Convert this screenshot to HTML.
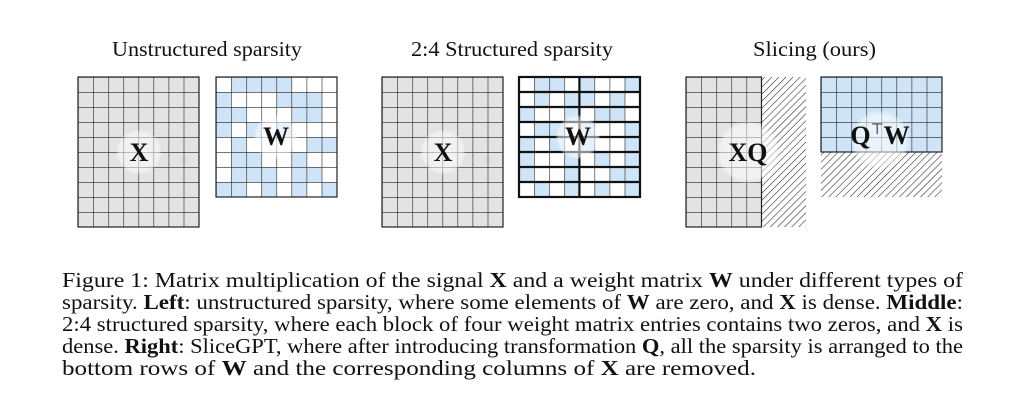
<!DOCTYPE html>
<html><head><meta charset="utf-8"><style>
body{margin:0;background:#fff;width:1024px;height:412px;overflow:hidden}
svg{display:block}
.t{font-family:"Liberation Serif",serif;font-size:21px;fill:#111}
.b{font-weight:bold}
.lab{font-family:"Liberation Serif",serif;font-weight:bold;font-size:26px;fill:#111;text-anchor:middle}
</style></head><body>
<svg width="1024" height="412" viewBox="0 0 1024 412" xmlns="http://www.w3.org/2000/svg">
<defs>
<pattern id="g" width="15.1" height="15" patternUnits="userSpaceOnUse"><path d="M0 0H15.1M0 0V15" stroke="#222" stroke-width="1.2" fill="none"/></pattern>
<pattern id="h" width="5" height="5" patternUnits="userSpaceOnUse" patternTransform="rotate(45)"><line x1="0" y1="0" x2="0" y2="5" stroke="#222" stroke-width="1.1"/></pattern>
<radialGradient id="c"><stop offset="0" stop-color="#fff" stop-opacity="0.6"/><stop offset="0.85" stop-color="#fff" stop-opacity="0.5"/><stop offset="1" stop-color="#fff" stop-opacity="0"/></radialGradient>
</defs>
<text class="t" x="112" y="56" textLength="190" lengthAdjust="spacingAndGlyphs">Unstructured sparsity</text>
<text class="t" x="411" y="56" textLength="202" lengthAdjust="spacingAndGlyphs">2:4 Structured sparsity</text>
<text class="t" x="753" y="56" textLength="123" lengthAdjust="spacingAndGlyphs">Slicing (ours)</text>

<!-- Left X -->
<g transform="translate(78,77)"><rect width="121" height="150" fill="#e3e3e3"/><rect width="121" height="150" fill="url(#g)"/><rect width="121" height="150" fill="none" stroke="#222" stroke-width="1.2"/></g>
<circle cx="139" cy="152" r="23" fill="url(#c)"/><text class="lab" x="139" y="161">X</text>

<!-- Left W -->
<g transform="translate(216,77)" fill="#cfe4f7">
<rect x="15.1" y="0" width="60.4" height="15"/>
<rect x="0" y="15" width="15.1" height="15"/><rect x="60.4" y="15" width="45.3" height="15"/>
<rect x="0" y="30" width="30.2" height="15"/><rect x="75.5" y="30" width="30.2" height="15"/>
<rect x="0" y="45" width="15.1" height="15"/><rect x="30.2" y="45" width="15.1" height="15"/><rect x="60.4" y="45" width="15.1" height="15"/>
<rect x="15.1" y="60" width="15.1" height="15"/><rect x="90.6" y="60" width="30.2" height="15"/>
<rect x="15.1" y="75" width="30.2" height="15"/><rect x="75.5" y="75" width="15.1" height="15"/>
<rect x="15.1" y="90" width="45.3" height="15"/><rect x="75.5" y="90" width="30.2" height="15"/>
<rect x="0" y="105" width="30.2" height="15"/><rect x="45.3" y="105" width="15.1" height="15"/><rect x="75.5" y="105" width="15.1" height="15"/><rect x="105.7" y="105" width="15.1" height="15"/>
<rect width="121" height="120" fill="url(#g)"/><rect width="121" height="120" fill="none" stroke="#222" stroke-width="1.2"/>
</g>
<circle cx="276" cy="137" r="23" fill="url(#c)"/><text class="lab" x="276" y="145">W</text>

<!-- Middle X -->
<g transform="translate(382,77)"><rect width="121" height="150" fill="#e3e3e3"/><rect width="121" height="150" fill="url(#g)"/><rect width="121" height="150" fill="none" stroke="#222" stroke-width="1.2"/></g>
<circle cx="443" cy="152" r="23" fill="url(#c)"/><text class="lab" x="443" y="161">X</text>

<!-- Middle W -->
<g transform="translate(519,77)" fill="#cfe4f7">
<rect x="15.1" y="0" width="30.2" height="15"/><rect x="60.4" y="0" width="15.1" height="15"/><rect x="105.7" y="0" width="15.1" height="15"/>
<rect x="15.1" y="15" width="15.1" height="15"/><rect x="45.3" y="15" width="30.2" height="15"/><rect x="90.6" y="15" width="15.1" height="15"/>
<rect x="0" y="30" width="15.1" height="15"/><rect x="45.3" y="30" width="15.1" height="15"/><rect x="75.5" y="30" width="30.2" height="15"/>
<rect x="15.1" y="45" width="30.2" height="15"/><rect x="60.4" y="45" width="15.1" height="15"/><rect x="105.7" y="45" width="15.1" height="15"/>
<rect x="0" y="60" width="15.1" height="15"/><rect x="30.2" y="60" width="15.1" height="15"/><rect x="60.4" y="60" width="15.1" height="15"/><rect x="105.7" y="60" width="15.1" height="15"/>
<rect x="0" y="75" width="15.1" height="15"/><rect x="45.3" y="75" width="15.1" height="15"/><rect x="75.5" y="75" width="15.1" height="15"/><rect x="105.7" y="75" width="15.1" height="15"/>
<rect x="0" y="90" width="15.1" height="15"/><rect x="45.3" y="90" width="15.1" height="15"/><rect x="90.6" y="90" width="30.2" height="15"/>
<rect x="15.1" y="105" width="15.1" height="15"/><rect x="45.3" y="105" width="15.1" height="15"/><rect x="75.5" y="105" width="15.1" height="15"/><rect x="105.7" y="105" width="15.1" height="15"/>
<rect width="121" height="120" fill="url(#g)"/>
<g stroke="#111" stroke-width="2.2"><path d="M0 15H121M0 30H121M0 45H121M0 60H121M0 75H121M0 90H121M0 105H121M60.4 0V120"/></g>
<rect width="121" height="120" fill="none" stroke="#111" stroke-width="2.2"/>
</g>
<circle cx="578" cy="137" r="23" fill="url(#c)"/><text class="lab" x="578" y="145">W</text>

<!-- Right XQ -->
<rect x="762" y="77" width="44" height="150" fill="url(#h)"/>
<g transform="translate(686,77)"><rect width="76" height="150" fill="#e3e3e3"/><rect width="75.5" height="150" fill="url(#g)"/><rect width="75.5" height="150" fill="none" stroke="#222" stroke-width="1.2"/></g>
<circle cx="748" cy="152" r="32" fill="url(#c)"/><text class="lab" x="748" y="161">XQ</text>

<!-- Right QtW -->
<rect x="821" y="152" width="121" height="45" fill="url(#h)"/>
<g transform="translate(821,77)"><rect width="121" height="75" fill="#cfe4f7"/><rect width="121" height="75" fill="url(#g)"/><rect width="121" height="75" fill="none" stroke="#222" stroke-width="1.2"/></g>
<circle cx="880" cy="140" r="30" fill="url(#c)"/><text class="lab" x="880" y="144">Q<tspan font-size="15" font-weight="normal" dy="-10">⊤</tspan><tspan dy="10">W</tspan></text>

<!-- Caption -->
<text class="t" x="62" y="287" textLength="901" lengthAdjust="spacingAndGlyphs">Figure 1:  Matrix multiplication of the signal <tspan class="b">X</tspan> and a weight matrix <tspan class="b">W</tspan> under different types of</text>
<text class="t" x="62" y="309" textLength="901" lengthAdjust="spacingAndGlyphs">sparsity. <tspan class="b">Left</tspan>: unstructured sparsity, where some elements of <tspan class="b">W</tspan> are zero, and <tspan class="b">X</tspan> is dense. <tspan class="b">Middle</tspan>:</text>
<text class="t" x="62" y="331" textLength="901" lengthAdjust="spacingAndGlyphs">2:4 structured sparsity, where each block of four weight matrix entries contains two zeros, and <tspan class="b">X</tspan> is</text>
<text class="t" x="62" y="353" textLength="901" lengthAdjust="spacingAndGlyphs">dense. <tspan class="b">Right</tspan>: SliceGPT, where after introducing transformation <tspan class="b">Q</tspan>, all the sparsity is arranged to the</text>
<text class="t" x="62" y="375" textLength="694" lengthAdjust="spacingAndGlyphs">bottom rows of <tspan class="b">W</tspan> and the corresponding columns of <tspan class="b">X</tspan> are removed.</text>
</svg>
</body></html>
